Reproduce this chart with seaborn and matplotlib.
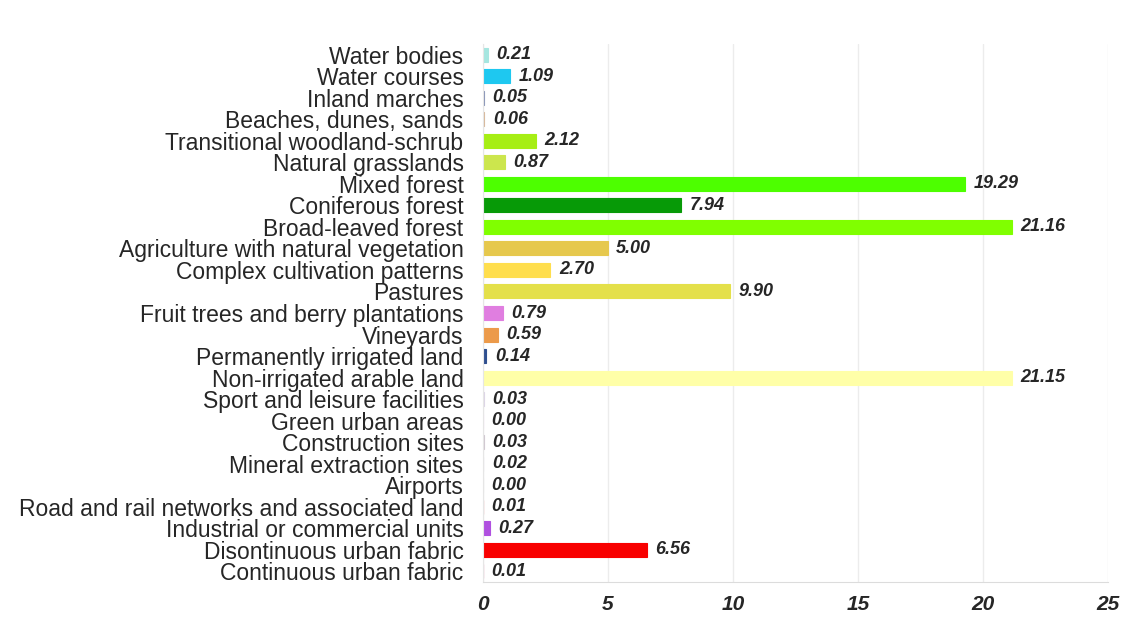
import matplotlib
matplotlib.use("Agg")
import matplotlib.pyplot as plt
import seaborn as sns
from pandas import DataFrame

# land cover classes, top to bottom
CLASSES = [
    "Water bodies", "Water courses", "Inland marches", "Beaches, dunes, sands",
    "Transitional woodland-schrub", "Natural grasslands", "Mixed forest",
    "Coniferous forest", "Broad-leaved forest", "Agriculture with natural vegetation",
    "Complex cultivation patterns", "Pastures", "Fruit trees and berry plantations",
    "Vineyards", "Permanently irrigated land", "Non-irrigated arable land",
    "Sport and leisure facilities", "Green urban areas", "Construction sites",
    "Mineral extraction sites", "Airports", "Road and rail networks and associated land",
    "Industrial or commercial units", "Disontinuous urban fabric", "Continuous urban fabric",
]

# share of area (%)
SHARES = [
    0.21, 1.09, 0.05, 0.06, 2.12, 0.87, 19.29, 7.94, 21.16, 5.00, 2.70, 9.90,
    0.79, 0.59, 0.14, 21.15, 0.03, 0.00, 0.03, 0.02, 0.00, 0.01, 0.27, 6.56, 0.01,
]

# bar colours per class
COLORS = [
    "#a6e6e0", "#1ec8f0", "#8a96b8", "#d8b89a", "#a6ee14", "#cce64d", "#4dff00",
    "#079a07", "#80ff00", "#e6c84d", "#ffde4d", "#e4e04a", "#e07ee0", "#ec9a4a",
    "#2f4f8f", "#ffffa8", "#ddd6e6", "#ffa6ff", "#d0c8d0", "#c0b0c8", "#e6cce6",
    "#cc0000", "#b050e0", "#f80000", "#e6004d",
]

XTICKS = [0, 5, 10, 15, 20, 25]

df = DataFrame({"Class": CLASSES, "Share": SHARES})
palette = dict(zip(CLASSES, COLORS))

sns.set_style("white")
plt.rcParams["font.family"] = ["Liberation Sans", "DejaVu Sans"]

fig = plt.figure(figsize=(11.25, 6.17), dpi=100)
ax = fig.add_axes([0.4293, 0.0567, 0.5556, 0.872])

sns.barplot(data=df, x="Share", y="Class", hue="Class", palette=palette,
            legend=False, width=0.65, saturation=1, ax=ax)

# give tiny bars a visible sliver, like the original
for patch in ax.patches:
    patch.set_edgecolor(patch.get_facecolor())
    patch.set_linewidth(0.8)

# value labels next to each bar
for cont in ax.containers:
    ax.bar_label(cont, fmt="%.2f", padding=6, fontsize=13, fontweight="bold",
                 fontstyle="italic", color="#262626")

ax.set_xlim(0, 25)
ax.set_xticks(XTICKS)
ax.set_xticklabels([str(t) for t in XTICKS], fontsize=15, fontweight="bold",
                   fontstyle="italic")
ax.tick_params(axis="x", length=8, color="#e0e0e0", pad=1)
ax.tick_params(axis="y", length=8, color="#ececec", labelsize=16.5, pad=6)
ax.set_xlabel("")
ax.set_ylabel("")

ax.grid(axis="x", color="#ececec", linewidth=1)
ax.set_axisbelow(True)
for side in ["top", "right"]:
    ax.spines[side].set_visible(False)
ax.spines["bottom"].set_color("#dcdcdc")
ax.spines["left"].set_color("#e6e6e6")

fig.savefig("out.png", dpi=100)
